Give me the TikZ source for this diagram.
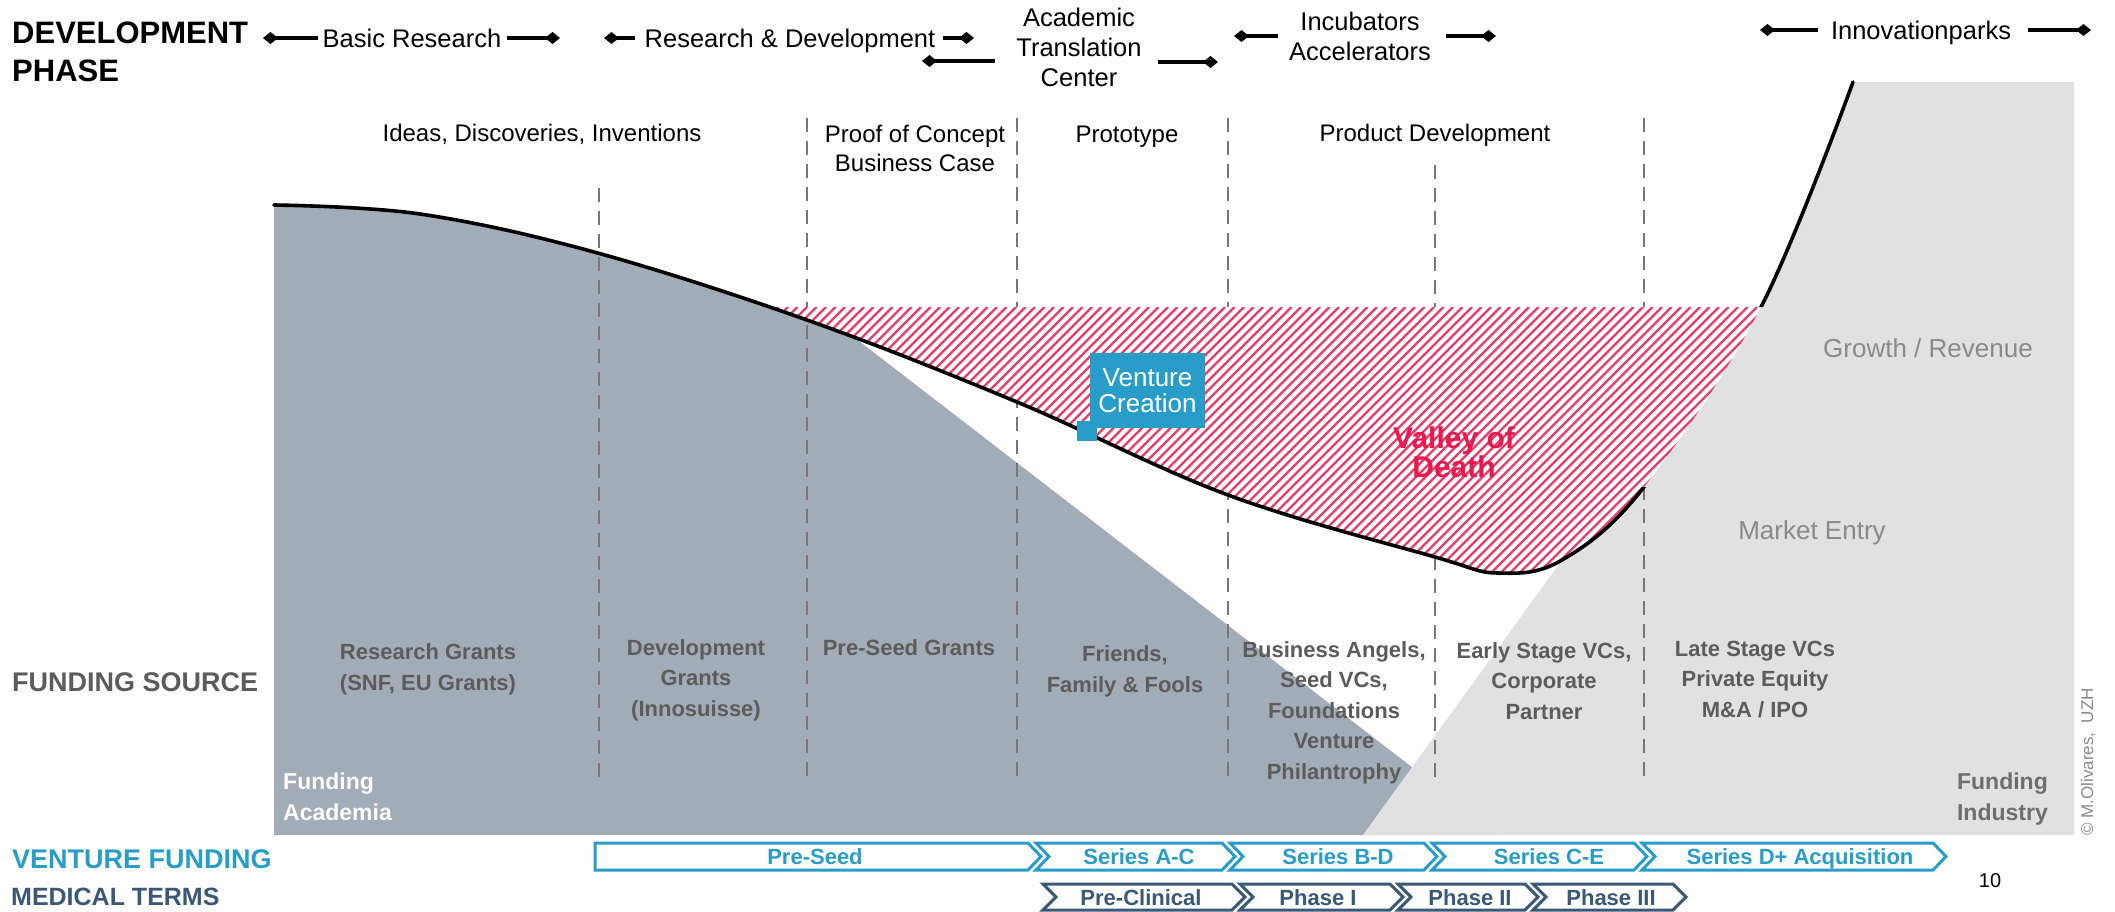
\documentclass[tikz,border=0pt]{standalone}
\usepackage{fontspec}
\setmainfont{Liberation Sans}
\usetikzlibrary{arrows.meta}
\definecolor{acad}{HTML}{A2ACB6}
\definecolor{indus}{HTML}{E1E1E1}
\definecolor{dashgray}{HTML}{777777}
\definecolor{srcgray}{HTML}{5C5C5C}
\definecolor{vblue}{HTML}{289DC9}
\definecolor{mblue}{HTML}{3A5877}
\definecolor{crimson}{HTML}{E8194F}
\definecolor{softgray}{HTML}{8A8A8A}
\definecolor{indgray}{HTML}{6E6E6E}
\begin{document}
\begin{tikzpicture}[x=1pt,y=-1pt,
  toplbl/.style={font=\fontsize{25.5}{30}\selectfont, align=center, inner sep=0pt, anchor=base},
  phaselbl/.style={font=\fontsize{24}{29}\selectfont, align=center, inner sep=0pt, anchor=base},
  srclbl/.style={font=\bfseries\fontsize{22}{30.5}\selectfont, text=srcgray, align=center, inner sep=0pt, anchor=base},
  sidelbl/.style={font=\bfseries\fontsize{27}{32}\selectfont, inner sep=0pt, anchor=base west},
  darr/.style={line width=4pt, -{Diamond[length=15pt,width=12pt]}},
  dashline/.style={draw=dashgray, line width=2.8pt, dash pattern=on 14pt off 9pt},
  hatchline/.style={draw=crimson!85!white, line width=2.3pt},
  vchev/.style={draw=vblue, line width=3pt, fill=white},
  mchev/.style={draw=mblue, line width=3pt, fill=white},
  vtxt/.style={font=\bfseries\fontsize{22}{26}\selectfont, text=vblue, anchor=base, inner sep=0pt},
  mtxt/.style={font=\bfseries\fontsize{22}{26}\selectfont, text=mblue, anchor=base, inner sep=0pt},
  curveline/.style={line width=3.6pt, line cap=round}
]
\useasboundingbox (0,0) rectangle (2115,911);
\fill[white] (0,0) rectangle (2115,911);

% ---------- funding regions (below the curve) ----------
\begin{scope}
  \clip plot[smooth,tension=0.6] coordinates {(274,205) (420,214) (594,252) (807,320) (1017,402) (1228,495) (1435,557) (1498,573) (1562,560) (1644,487) (1761,307) (1853,82)}
        -- (2115,82) -- (2115,911) -- (274,911) -- cycle;
  \fill[acad] (274,0) -- (855,0) -- (855,338) -- (1500,835) -- (274,835) -- cycle;
  \fill[indus] (1363,835) -- (1562,560) -- (1562,82) -- (2074,82) -- (2074,835) -- cycle;
\end{scope}

% ---------- dashed separators ----------
\draw[dashline] (599,188) -- (599,780);
\draw[dashline] (807,118) -- (807,780);
\draw[dashline] (1017,118) -- (1017,780);
\draw[dashline] (1228,118) -- (1228,780);
\draw[dashline] (1435,165) -- (1435,780);
\draw[dashline] (1644,118) -- (1644,780);

% ---------- valley of death hatch ----------
\begin{scope}
  \clip plot[smooth,tension=0.6] coordinates {(274,205) (420,214) (594,252) (807,320) (1017,402) (1228,495) (1435,557) (1498,573) (1562,560) (1644,487) (1761,307) (1853,82)}
        -- (1853,0) -- (274,0) -- cycle;
  \clip (700,307) rectangle (1800,650);
  \fill[white] (700,307) rectangle (1800,650);
  \foreach \i in {0,...,160} \draw[hatchline] ({350+9.5*\i},650) -- ++(343,-343);
\end{scope}

% ---------- main curve ----------
\begin{scope}
  \clip (0,0) rectangle (1630,911) (1630,0) rectangle (2115,307) (1630,487) rectangle (2115,911);
  \draw[curveline] plot[smooth,tension=0.6] coordinates {(274,205) (420,214) (594,252) (807,320) (1017,402) (1228,495) (1435,557) (1498,573) (1562,560) (1644,487) (1761,307) (1853,82)};
\end{scope}

% ---------- venture creation ----------
\node[fill=vblue, inner sep=0pt, minimum width=20pt, minimum height=20pt] (vcsq) at (1087,430.5) {};
\node[fill=vblue, text=white, inner sep=0pt, minimum width=115pt, minimum height=75pt, align=center,
      font=\fontsize{26}{26}\selectfont] (vc) at (1147.5,390.5) {Venture\\Creation};

\node[font=\bfseries\fontsize{30}{25}\selectfont, text=crimson, align=center, inner sep=0pt, anchor=base] (vod) at (1454,477) {Valley of\\Death};

% ---------- top row ----------
\node[font=\bfseries\fontsize{31}{38}\selectfont, align=left, inner sep=0pt, anchor=base west] (title) at (12,81) {DEVELOPMENT\\PHASE};

\node[toplbl] (basic) at (412,47) {Basic Research};
\draw[darr] (318,38) -- (263,38);
\draw[darr] (507,38) -- (560,38);

\node[toplbl] (rnd) at (790,47) {Research \& Development};
\draw[darr] (635,38) -- (604,38);
\draw[darr] (943,38) -- (974,38);

\node[toplbl] (atc) at (1079,86) {Academic\\Translation\\Center};
\draw[darr] (995,61) -- (922,61);
\draw[darr] (1158,62) -- (1218,62);

\node[toplbl] (incub) at (1360,60) {Incubators\\Accelerators};
\draw[darr] (1278,36) -- (1234,36);
\draw[darr] (1446,36) -- (1496,36);

\node[toplbl] (innov) at (1921,39) {Innovationparks};
\draw[darr] (1818,30) -- (1760,30);
\draw[darr] (2028,30) -- (2091,30);

% ---------- phase labels ----------
\node[phaselbl] (ideas) at (542,141) {Ideas, Discoveries, Inventions};
\node[phaselbl] (poc) at (915,171) {Proof of Concept\\Business Case};
\node[phaselbl] (proto) at (1127,142) {Prototype};
\node[phaselbl] (prod) at (1435,141) {Product Development};

% ---------- right side labels ----------
\node[font=\fontsize{26}{30}\selectfont, text=softgray, inner sep=0pt, anchor=base] (growth) at (1928,357) {Growth / Revenue};
\node[font=\fontsize{26}{30}\selectfont, text=softgray, inner sep=0pt, anchor=base] (market) at (1812,539) {Market Entry};

% ---------- funding sources ----------
\node[sidelbl, text=srcgray] (fsrc) at (12,691) {FUNDING SOURCE};
\node[srclbl] (s1) at (428,690) {Research Grants\\(SNF, EU Grants)};
\node[srclbl] (s2) at (696,716) {Development\\Grants\\(Innosuisse)};
\node[srclbl] (s3) at (909,655) {Pre-Seed Grants};
\node[srclbl] (s4) at (1125,692) {Friends,\\Family \& Fools};
\node[srclbl] (s5) at (1334,779) {Business Angels,\\Seed VCs,\\Foundations\\Venture\\Philantrophy};
\node[srclbl] (s6) at (1544,719) {Early Stage VCs,\\Corporate\\Partner};
\node[srclbl] (s7) at (1755,717) {Late Stage VCs\\Private Equity\\M\&A / IPO};

\node[font=\bfseries\fontsize{23}{31}\selectfont, text=white!95!acad, align=left, inner sep=0pt, anchor=base west] (facad) at (283,820) {Funding\\Academia};
\node[font=\bfseries\fontsize{23}{31}\selectfont, text=indgray, align=right, inner sep=0pt, anchor=base east] (find) at (2048,820) {Funding\\Industry};

\node[font=\fontsize{17}{20}\selectfont, text=softgray, rotate=90, inner sep=0pt] (copy) at (2088,762) {© M.Olivares,\ \ UZH};
\node[font=\fontsize{20}{24}\selectfont, inner sep=0pt, anchor=base] (pnum) at (1990,887) {10};

% ---------- venture funding chevrons ----------
\node[sidelbl, text=vblue] (vfund) at (12,868) {VENTURE FUNDING};
\node[sidelbl, text=mblue, font=\bfseries\fontsize{25}{30}\selectfont] (mterms) at (11,905) {MEDICAL TERMS};

\path[vchev] (595,843) -- (1028,843) -- (1041,856.5) -- (1028,870) -- (595,870) -- cycle;
\path[vchev] (1036,843) -- (1222,843) -- (1235,856.5) -- (1222,870) -- (1036,870) -- (1049,856.5) -- cycle;
\path[vchev] (1230,843) -- (1424,843) -- (1437,856.5) -- (1424,870) -- (1230,870) -- (1243,856.5) -- cycle;
\path[vchev] (1432,843) -- (1634,843) -- (1647,856.5) -- (1634,870) -- (1432,870) -- (1445,856.5) -- cycle;
\path[vchev] (1642,843) -- (1933,843) -- (1946,856.5) -- (1933,870) -- (1642,870) -- (1655,856.5) -- cycle;
\node[vtxt] (v1) at (815,864) {Pre-Seed};
\node[vtxt] (v2) at (1139,864) {Series A-C};
\node[vtxt] (v3) at (1338,864) {Series B-D};
\node[vtxt] (v4) at (1549,864) {Series C-E};
\node[vtxt] (v5) at (1800,864) {Series D+ Acquisition};

\path[mchev] (1043,884) -- (1232,884) -- (1245,897) -- (1232,910) -- (1043,910) -- (1056,897) -- cycle;
\path[mchev] (1240,884) -- (1390,884) -- (1403,897) -- (1390,910) -- (1240,910) -- (1253,897) -- cycle;
\path[mchev] (1398,884) -- (1525,884) -- (1538,897) -- (1525,910) -- (1398,910) -- (1411,897) -- cycle;
\path[mchev] (1533,884) -- (1673,884) -- (1686,897) -- (1673,910) -- (1533,910) -- (1546,897) -- cycle;
\node[mtxt] (m1) at (1141,905) {Pre-Clinical};
\node[mtxt] (m2) at (1318,905) {Phase I};
\node[mtxt] (m3) at (1470,905) {Phase II};
\node[mtxt] (m4) at (1611,905) {Phase III};
\end{tikzpicture}
\end{document}
